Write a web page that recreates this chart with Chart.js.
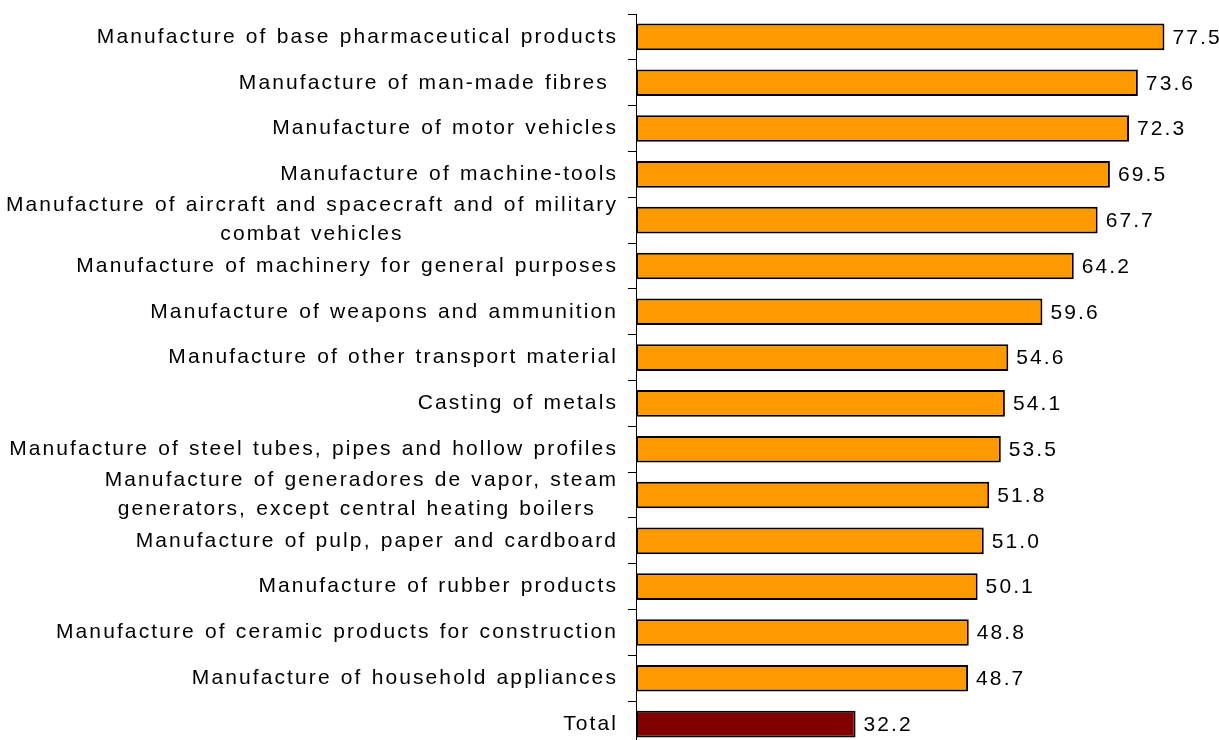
<!DOCTYPE html>
<html lang="en">
<head>
    <meta charset="UTF-8">
    <title>Manufacturing sectors</title>
    <script src="https://cdn.jsdelivr.net/npm/chart.js"></script>
    <style>
        html, body { margin: 0; padding: 0; background: #fff; overflow: hidden; }
    </style>
</head>
<body>
    <canvas id="sectorChart" width="1219" height="747"></canvas>

    <script>
        const sectors = [
            'Manufacture of base pharmaceutical products',
            'Manufacture of man-made fibres ',
            'Manufacture of motor vehicles',
            'Manufacture of machine-tools',
            ['Manufacture of aircraft and spacecraft and of military', 'combat vehicles'],
            'Manufacture of machinery for general purposes',
            'Manufacture of weapons and ammunition',
            'Manufacture of other transport material',
            'Casting of metals',
            'Manufacture of steel tubes, pipes and hollow profiles',
            ['Manufacture of generadores de vapor, steam', 'generators, except central heating boilers '],
            'Manufacture of pulp, paper and cardboard',
            'Manufacture of rubber products',
            'Manufacture of ceramic products for construction',
            'Manufacture of household appliances',
            'Total'
        ];
        const shares = [77.5, 73.6, 72.3, 69.5, 67.7, 64.2, 59.6, 54.6, 54.1, 53.5, 51.8, 51.0, 50.1, 48.8, 48.7, 32.2];

        const SPACING = '2.1px';
        const WORDS = '1.2px';
        const FONT = { family: '"Liberation Sans", Arial, sans-serif', size: 21 };

        function setSpacing(ctx) {
            ctx.letterSpacing = SPACING;
            ctx.wordSpacing = WORDS;
        }

        // wide tracking on everything the chart writes
        const tracking = {
            id: 'tracking',
            afterInit(chart) { setSpacing(chart.ctx); },
            beforeUpdate(chart) { setSpacing(chart.ctx); },
            beforeDraw(chart) {
                setSpacing(chart.ctx);
                // two-line labels: second line centred under the first
                const scale = chart.scales.y;
                const ctx = chart.ctx;
                scale.getLabelItems().forEach(item => {
                    if (!Array.isArray(item.label)) return;
                    ctx.save();
                    ctx.font = item.font.string;
                    const w = ctx.measureText(item.label[0]).width;
                    ctx.restore();
                    item.options.textAlign = 'center';
                    item.options.translation[0] -= w / 2;
                });
            }
        };

        const valueLabels = {
            id: 'valueLabels',
            afterDatasetsDraw(chart) {
                const ctx = chart.ctx;
                const meta = chart.getDatasetMeta(0);
                ctx.save();
                setSpacing(ctx);
                ctx.font = FONT.size + 'px ' + FONT.family;
                ctx.fillStyle = '#000';
                ctx.textAlign = 'left';
                ctx.textBaseline = 'middle';
                meta.data.forEach((bar, i) => {
                    ctx.fillText(shares[i].toFixed(1), bar.x + 8, bar.y + 1);
                });
                ctx.restore();
            }
        };

        const ctx = document.getElementById('sectorChart').getContext('2d');
        new Chart(ctx, {
            type: 'bar',
            data: {
                labels: sectors,
                datasets: [{
                    data: shares,
                    backgroundColor: shares.map((v, i) => i === shares.length - 1 ? '#800000' : '#FF9900'),
                    borderColor: '#000',
                    borderWidth: 2,
                    borderSkipped: false,
                    categoryPercentage: 1,
                    barPercentage: 0.58
                }]
            },
            options: {
                indexAxis: 'y',
                responsive: false,
                animation: false,
                layout: { padding: { top: 14, left: 0, right: 0, bottom: 0 } },
                plugins: {
                    legend: { display: false },
                    tooltip: { enabled: false }
                },
                scales: {
                    x: {
                        display: false,
                        min: 0,
                        max: 85.5
                    },
                    y: {
                        afterFit(scale) {
                            scale.width = 636;
                            scale.paddingTop = 0;
                            scale.paddingBottom = 0;
                        },
                        grid: {
                            drawOnChartArea: false,
                            drawTicks: true,
                            tickLength: 8,
                            color: '#000',
                            lineWidth: 1
                        },
                        border: { display: true, color: '#000', width: 1 },
                        ticks: {
                            color: '#000',
                            padding: 10,
                            autoSkip: false,
                            font: { family: FONT.family, size: FONT.size, lineHeight: 1.38 }
                        }
                    }
                }
            },
            plugins: [tracking, valueLabels]
        });
    </script>
</body>
</html>
